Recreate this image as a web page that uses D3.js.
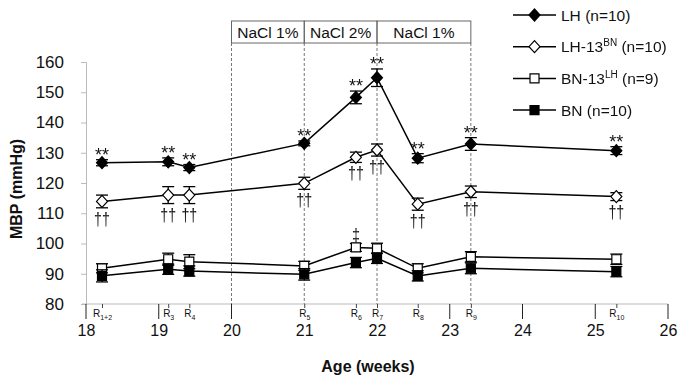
<!DOCTYPE html>
<html>
<head>
<meta charset="utf-8">
<script src="https://cdn.jsdelivr.net/npm/d3@7"></script>
<style>
  body { margin: 0; background: #fff; }
  text { font-family: "Liberation Sans", Arial, sans-serif; fill: #111; }
  .gray-aa { opacity: 0.99; will-change: transform; }
</style>
</head>
<body>
<svg id="chart" width="681" height="383"></svg>
<script>
// time points (weeks) and their R labels
const ages = [18.22, 19.13, 19.42, 21.0, 21.71, 22.0, 22.56, 23.29, 25.29];
const rLabels = ["1+2", "3", "4", "5", "6", "7", "8", "9", "10"];

// mean blood pressure (mmHg) and SEM for each group
const lhMean = [126.7, 127.0, 125.1, 133.1, 148.3, 154.8, 128.2, 132.9, 130.7];
const lhSem = [1.0, 1.3, 1.0, 0.8, 2.1, 2.9, 1.5, 2.1, 1.3];
const lh13Mean = [113.9, 116.0, 116.0, 119.9, 128.5, 130.9, 113.0, 117.1, 115.5];
const lh13Sem = [2.1, 2.8, 2.8, 2.0, 1.7, 2.0, 2.0, 1.9, 1.3];
const bn13Mean = [91.8, 94.8, 94.0, 92.6, 98.7, 98.4, 91.8, 95.6, 94.8];
const bn13Sem = [1.5, 2.0, 2.3, 1.5, 1.3, 1.7, 1.5, 1.7, 1.7];
const bnMean = [89.3, 91.5, 90.9, 89.8, 93.7, 95.1, 89.3, 91.8, 90.7];
const bnSem = [2.0, 1.7, 1.7, 1.9, 1.7, 1.7, 1.7, 1.8, 1.7];

const weekTicks = [18, 19, 20, 21, 22, 23, 24, 25, 26];
const majorTicks = [18, 19, 20, 23, 24, 25, 26];
const yTicks = [80, 90, 100, 110, 120, 130, 140, 150, 160];

// salt periods (weeks)
const saltStarts = [20, 21, 22];
const saltEnds = [21, 22, 23.29];
const saltLabels = ["NaCl 1%", "NaCl 2%", "NaCl 1%"];

// significance marks
const lhMarks = ["**", "**", "**", "**", "**", "**", "**", "**", "**"];
const lh13Marks = ["††", "††", "††", "††", "††", "††", "††", "††", "††"];
const bn13Marks = ["", "", "", "", "‡", "", "", "", ""];

const series = [
  { name: "LH", sup: "", rest: " (n=10)", mean: lhMean, sem: lhSem, shape: "diamond", fill: "#000" },
  { name: "LH-13", sup: "BN", rest: " (n=10)", mean: lh13Mean, sem: lh13Sem, shape: "diamond", fill: "#fff" },
  { name: "BN-13", sup: "LH", rest: " (n=9)", mean: bn13Mean, sem: bn13Sem, shape: "square", fill: "#fff" },
  { name: "BN", sup: "", rest: " (n=10)", mean: bnMean, sem: bnSem, shape: "square", fill: "#000" }
];

const svg = d3.select("#chart");
const x = d3.scaleLinear().domain([18, 26]).range([86, 668]);
const y = d3.scaleLinear().domain([80, 160]).range([304, 62]);

function markerPath(shape) {
  if (shape === "diamond") return "M0,-6L5.5,0L0,6L-5.5,0Z";
  return "M-4.5,-4.5H4.5V4.5H-4.5Z";
}

// y axis
const yAxis = svg.append("g")
  .attr("transform", "translate(86,0)")
  .call(d3.axisLeft(y).tickValues(yTicks).tickSize(5).tickPadding(17));
yAxis.select(".domain").attr("stroke", "#bbb");
yAxis.selectAll(".tick line").attr("stroke", "#bbb");
yAxis.selectAll(".tick text").style("font-size", "17px").style("font-family", "Liberation Sans, Arial, sans-serif").attr("fill", "#111");

// x baseline (gray)
svg.append("line")
  .attr("x1", 82).attr("x2", 668)
  .attr("y1", y(80)).attr("y2", y(80))
  .attr("stroke", "#bbb");

// week labels
const xAxis = svg.append("g")
  .attr("transform", `translate(0,${y(80)})`)
  .call(d3.axisBottom(x).tickValues(weekTicks).tickSize(0).tickPadding(21));
xAxis.select(".domain").remove();
xAxis.selectAll(".tick text").style("font-size", "16px").style("font-family", "Liberation Sans, Arial, sans-serif").attr("fill", "#111");

// tall week ticks
svg.append("g").selectAll("line")
  .data(majorTicks)
  .join("line")
  .attr("x1", d => x(d)).attr("x2", d => x(d))
  .attr("y1", y(80)).attr("y2", y(80) + 15)
  .attr("stroke", "#222");

// R ticks and labels
const rAxis = svg.append("g")
  .attr("transform", `translate(0,${y(80)})`)
  .call(d3.axisBottom(x).tickValues(ages).tickSize(4).tickPadding(2).tickFormat(""));
rAxis.select(".domain").remove();
rAxis.selectAll(".tick line").attr("stroke", "#444");
rAxis.selectAll(".tick text").each(function(d, i) {
  const t = d3.select(this)
    .style("font-size", "10px")
    .style("font-family", "Liberation Sans, Arial, sans-serif")
    .attr("fill", "#333");
  t.append("tspan").text("R");
  t.append("tspan").attr("dy", 2.5).style("font-size", "7px").text(rLabels[i]);
});

// dashed period lines
const dashX = [20, 21, 22, 23.29];
svg.append("g").selectAll("line")
  .data(dashX)
  .join("line")
  .attr("x1", d => x(d)).attr("x2", d => x(d))
  .attr("y1", 43).attr("y2", y(80))
  .attr("stroke", "#777")
  .attr("stroke-dasharray", "3,2");

// salt boxes
const boxes = svg.append("g");
boxes.selectAll("rect")
  .data(saltLabels)
  .join("rect")
  .attr("x", (d, i) => x(saltStarts[i]))
  .attr("y", 21)
  .attr("width", (d, i) => x(saltEnds[i]) - x(saltStarts[i]))
  .attr("height", 22)
  .attr("fill", "none")
  .attr("stroke", "#666");
boxes.selectAll("text")
  .data(saltLabels)
  .join("text")
  .attr("x", (d, i) => (x(saltStarts[i]) + x(saltEnds[i])) / 2)
  .attr("y", 38)
  .attr("text-anchor", "middle")
  .style("font-size", "15.5px")
  .text(d => d);

// series lines, error bars, markers
series.forEach(s => {
  const g = svg.append("g");
  const line = d3.line().x((d, i) => x(ages[i])).y(d => y(d));
  g.append("path")
    .attr("d", line(s.mean))
    .attr("fill", "none")
    .attr("stroke", "#000")
    .attr("stroke-width", 1.5);

  const eb = g.selectAll(".eb")
    .data(s.mean)
    .join("g");
  eb.append("line")
    .attr("x1", (d, i) => x(ages[i])).attr("x2", (d, i) => x(ages[i]))
    .attr("y1", (d, i) => y(d + s.sem[i])).attr("y2", (d, i) => y(d - s.sem[i]))
    .attr("stroke", "#000").attr("stroke-width", 1.3);
  [1, -1].forEach(sign => {
    eb.append("line")
      .attr("x1", (d, i) => x(ages[i]) - 6).attr("x2", (d, i) => x(ages[i]) + 6)
      .attr("y1", (d, i) => y(d + sign * s.sem[i])).attr("y2", (d, i) => y(d + sign * s.sem[i]))
      .attr("stroke", "#000").attr("stroke-width", 1.3);
  });

  g.selectAll(".mk")
    .data(s.mean)
    .join("path")
    .attr("transform", (d, i) => `translate(${x(ages[i])},${y(d)})`)
    .attr("d", markerPath(s.shape))
    .attr("fill", s.fill)
    .attr("stroke", "#000")
    .attr("stroke-width", 1.2);
});

// significance annotations
const notes = svg.append("g").attr("class", "gray-aa");
notes.selectAll(".star")
  .data(lhMarks)
  .join("text")
  .attr("x", (d, i) => x(ages[i]))
  .attr("y", (d, i) => y(lhMean[i] + lhSem[i]) + 1)
  .attr("text-anchor", "middle")
  .style("font-size", "18px")
  .attr("fill", "#444")
  .text(d => d);
notes.selectAll(".dag")
  .data(lh13Marks)
  .join("text")
  .attr("transform", (d, i) => `translate(${x(ages[i])},${y(lh13Mean[i] - lh13Sem[i]) + 17}) scale(0.75,1)`)
  .attr("text-anchor", "middle")
  .style("font-size", "19px")
  .attr("fill", "#000")
  .text(d => d);
notes.selectAll(".ddag")
  .data(bn13Marks)
  .join("text")
  .attr("transform", (d, i) => `translate(${x(ages[i])},${y(bn13Mean[i] + bn13Sem[i]) - 3}) scale(0.8,1)`)
  .attr("text-anchor", "middle")
  .style("font-size", "18px")
  .attr("fill", "#000")
  .text(d => d);

// legend
const legend = svg.append("g");
series.forEach((s, i) => {
  const ly = 15 + i * 31.7;
  legend.append("line")
    .attr("x1", 513).attr("x2", 556).attr("y1", ly).attr("y2", ly)
    .attr("stroke", "#000").attr("stroke-width", 1.5);
  legend.append("path")
    .attr("transform", `translate(534.5,${ly})`)
    .attr("d", markerPath(s.shape))
    .attr("fill", s.fill).attr("stroke", "#000").attr("stroke-width", 1.2);
  const t = legend.append("text")
    .attr("x", 561).attr("y", ly + 5.5)
    .style("font-size", "15.5px");
  t.append("tspan").text(s.name);
  if (s.sup) {
    t.append("tspan").attr("dy", -6).style("font-size", "10px").text(s.sup);
    t.append("tspan").attr("dy", 6).text(s.rest);
  } else {
    t.append("tspan").text(s.rest);
  }
});

// axis titles
svg.append("text")
  .attr("transform", "translate(22,189) rotate(-90)")
  .attr("text-anchor", "middle")
  .style("font-size", "16px")
  .style("font-weight", "bold")
  .text("MBP (mmHg)");
svg.append("text")
  .attr("x", 368).attr("y", 372)
  .attr("text-anchor", "middle")
  .style("font-size", "16px")
  .style("font-weight", "bold")
  .text("Age (weeks)");
</script>
</body>
</html>
